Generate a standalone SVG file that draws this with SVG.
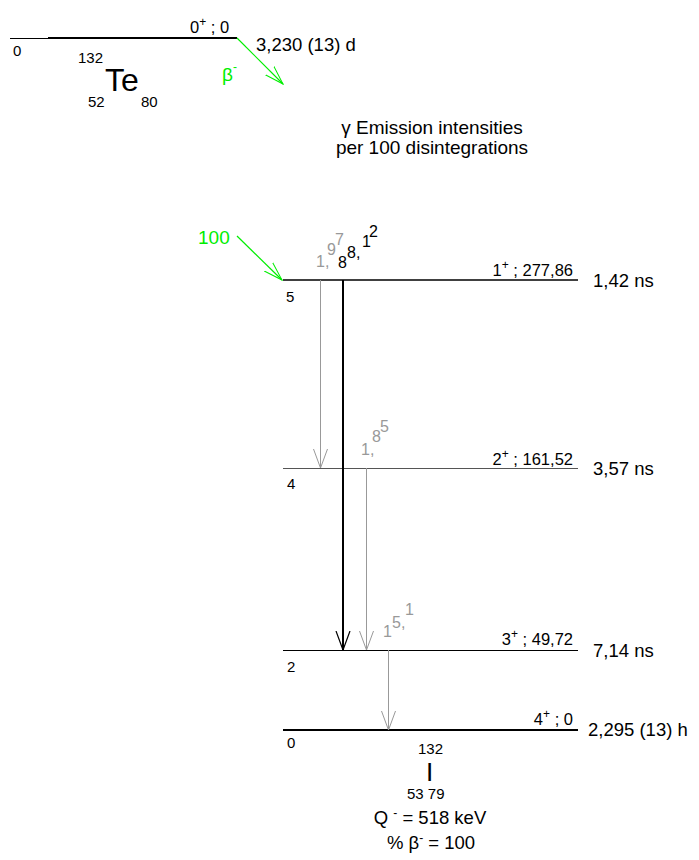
<svg xmlns="http://www.w3.org/2000/svg" width="699" height="860" viewBox="0 0 699 860">
<style>
text{font-family:"Liberation Sans",Arial,sans-serif;fill:#000}
.lv{font-size:16.5px}
.hl{font-size:18.5px}
.sm{font-size:15px}
.cd{font-size:16px}
.g{fill:#999}
.gr{fill:#00ee00}
.sup{font-size:12px}
</style>
<defs>
<marker id="ag" viewBox="0 0 20 20" refX="19" refY="10" markerWidth="20" markerHeight="20" markerUnits="userSpaceOnUse" orient="auto">
<path d="M0,3 L19,10 L0,17" fill="none" stroke="#999" stroke-width="1"/>
</marker>
<marker id="ab" viewBox="0 0 20 20" refX="19" refY="10" markerWidth="20" markerHeight="20" markerUnits="userSpaceOnUse" orient="auto">
<path d="M0,3 L19,10 L0,17" fill="none" stroke="#000" stroke-width="1.2"/>
</marker>
<marker id="agr" viewBox="0 0 20 20" refX="19" refY="10" markerWidth="20" markerHeight="20" markerUnits="userSpaceOnUse" orient="auto">
<path d="M0,4 L19,10 L0,16" fill="none" stroke="#00ee00" stroke-width="1"/>
</marker>
</defs>

<g id="parent">
<line x1="10" y1="38.5" x2="48" y2="38.5" stroke="#000" stroke-width="1"/>
<line x1="48" y1="38" x2="237" y2="38" stroke="#000" stroke-width="2"/>
<text class="sm" x="13" y="56">0</text>
<text class="lv" x="190" y="33">0<tspan class="sup" dy="-7">+</tspan><tspan dy="7"> ; 0</tspan></text>
<text class="hl" x="256" y="51">3,230 (13) d</text>
<text class="sm" x="78" y="63">132</text>
<text x="105" y="91" font-size="32">Te</text>
<text class="sm" x="88" y="107">52</text>
<text class="sm" x="141" y="107">80</text>
</g>

<g id="title">
<text x="432" y="134" font-size="19" text-anchor="middle">γ Emission intensities</text>
<text x="432" y="154" font-size="19" text-anchor="middle">per 100 disintegrations</text>
</g>

<g id="level5">
<line x1="283" y1="280" x2="578" y2="280" stroke="#000" stroke-width="1.5"/>
<text class="sm" x="286" y="302">5</text>
<text class="lv" x="573" y="276" text-anchor="end">1<tspan class="sup" dy="-7">+</tspan><tspan dy="7"> ; 277,86</tspan></text>
<text class="hl" x="593" y="287">1,42 ns</text>
</g>
<g id="level4">
<line x1="283" y1="468.5" x2="578" y2="468.5" stroke="#555" stroke-width="1"/>
<text class="sm" x="287" y="489">4</text>
<text class="lv" x="573" y="465" text-anchor="end">2<tspan class="sup" dy="-7">+</tspan><tspan dy="7"> ; 161,52</tspan></text>
<text class="hl" x="593" y="475">3,57 ns</text>
</g>
<g id="level2">
<line x1="283" y1="650.5" x2="578" y2="650.5" stroke="#000" stroke-width="1"/>
<text class="sm" x="287" y="672">2</text>
<text class="lv" x="573" y="645" text-anchor="end">3<tspan class="sup" dy="-7">+</tspan><tspan dy="7"> ; 49,72</tspan></text>
<text class="hl" x="593" y="657">7,14 ns</text>
</g>
<g id="level0">
<line x1="283" y1="730" x2="578" y2="730" stroke="#000" stroke-width="2"/>
<text class="sm" x="287" y="748">0</text>
<text class="lv" x="573" y="725" text-anchor="end">4<tspan class="sup" dy="-7">+</tspan><tspan dy="7"> ; 0</tspan></text>
<text class="hl" x="588" y="736">2,295 (13) h</text>
</g>

<g id="daughter">
<text class="sm" x="418" y="754">132</text>
<text x="426" y="781" font-size="26">I</text>
<text class="sm" x="407" y="799">53 79</text>
<text x="430" y="824" font-size="18.5" text-anchor="middle">Q <tspan class="sup" dy="-7">-</tspan><tspan dy="7"> = 518 keV</tspan></text>
<text x="431" y="849" font-size="18.5" text-anchor="middle">% β<tspan class="sup" dy="-7">-</tspan><tspan dy="7"> = 100</tspan></text>
</g>

<g id="connectors">
<line x1="237" y1="38" x2="283" y2="84" stroke="#00ee00" stroke-width="1.2" marker-end="url(#agr)"/>
<line x1="237" y1="236" x2="282" y2="280" stroke="#00ee00" stroke-width="1.2" marker-end="url(#agr)"/>
<line x1="320.5" y1="280" x2="320.5" y2="468" stroke="#999" stroke-width="1" marker-end="url(#ag)"/>
<line x1="343" y1="280" x2="343" y2="650" stroke="#000" stroke-width="2" marker-end="url(#ab)"/>
<line x1="366.5" y1="468" x2="366.5" y2="650" stroke="#999" stroke-width="1" marker-end="url(#ag)"/>
<line x1="388.5" y1="650" x2="388.5" y2="730" stroke="#999" stroke-width="1" marker-end="url(#ag)"/>
</g>

<g id="labels">
<text class="gr" x="222" y="81" font-size="19">β<tspan class="sup" dy="-10">-</tspan></text>
<text class="gr" x="198" y="244" font-size="19">100</text>
<text class="cd g"><tspan x="316" y="267">1,</tspan><tspan x="327" y="255">9</tspan><tspan x="335" y="245">7</tspan></text>
<text class="cd"><tspan x="338" y="268">8</tspan><tspan x="347" y="258">8,</tspan><tspan x="362" y="247">1</tspan><tspan x="369" y="237">2</tspan></text>
<text class="cd g"><tspan x="361" y="455">1,</tspan><tspan x="372" y="442">8</tspan><tspan x="380" y="432">5</tspan></text>
<text class="cd g"><tspan x="383" y="637">1</tspan><tspan x="392" y="628">5,</tspan><tspan x="405" y="615">1</tspan></text>
</g>
</svg>
